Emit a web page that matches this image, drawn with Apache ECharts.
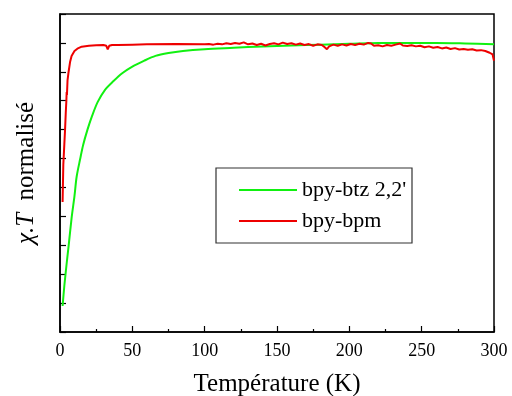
<!DOCTYPE html>
<html><head><meta charset="utf-8">
<script src="https://cdn.jsdelivr.net/npm/echarts@6/dist/echarts.min.js"></script>
<style>html,body{margin:0;padding:0;background:#fff}#c{width:512px;height:396px}</style>
</head><body><div id="c"></div>
<script>
var xTicks = [0, 50, 100, 150, 200, 250, 300];
var seriesNames = ["bpy-btz 2,2'", "bpy-bpm"];
var greenT = [1.8, 3, 4.6, 6, 8.1, 10, 11.5, 14, 16, 19, 22, 26, 31, 37, 43, 50, 58, 66, 75, 85, 100, 120, 140, 160, 180, 200, 220, 240, 260, 280, 300];
var greenV = [0.09, 0.16, 0.237, 0.30, 0.398, 0.47, 0.537, 0.60, 0.647, 0.70, 0.745, 0.795, 0.837, 0.868, 0.895, 0.918, 0.938, 0.955, 0.965, 0.972, 0.978, 0.983, 0.988, 0.991, 0.994, 0.997, 1.0, 1.0, 1.0, 0.998, 0.995];
var redT = [1.8, 2.3, 3, 3.5, 4, 4.4, 4.6, 4.8, 5.2, 5.8, 7, 8, 10, 12, 15, 20, 25, 30, 32, 33, 34, 36, 40, 50, 60, 80,
  100, 103, 106, 109, 112, 115, 118, 121, 124, 127, 130, 133, 136, 139, 142, 145, 148, 151, 154, 157, 160, 163, 166, 169, 172, 175, 178, 181, 183, 184.5, 186, 189, 192, 195, 198, 201, 204, 207, 210, 213, 215, 217, 220, 223, 226, 229, 232, 235, 237, 240, 243, 246, 249, 252, 255, 258, 261, 264, 267, 270, 273, 276, 279, 282, 285, 288, 291, 294, 297, 299, 300];
var redV = [0.45, 0.58, 0.65, 0.70, 0.76, 0.80, 0.83, 0.82, 0.87, 0.895, 0.935, 0.955, 0.972, 0.98, 0.987, 0.99, 0.992, 0.993, 0.99, 0.978, 0.99, 0.993, 0.993, 0.994, 0.995, 0.996,
  0.995, 0.996, 0.994, 0.997, 0.995, 0.999, 0.996, 1.0, 0.997, 1.002, 0.995, 0.998, 0.993, 0.997, 0.991, 0.996, 0.999, 0.995, 1.001, 0.996, 0.999, 0.994, 0.998, 0.993, 0.996, 0.99, 0.995, 0.993, 0.985, 0.978, 0.988, 0.994, 0.99, 0.995, 0.991, 0.996, 0.993, 0.997, 0.994, 1.0, 0.998, 0.99, 0.992, 0.988, 0.993, 0.99, 0.994, 0.998, 0.991, 0.989, 0.992, 0.988, 0.99, 0.985, 0.988, 0.983, 0.986, 0.981, 0.984, 0.979, 0.982, 0.977, 0.979, 0.976, 0.978, 0.974, 0.975, 0.972, 0.966, 0.96, 0.938];

function pairs(t, v) { return t.map(function (x, i) { return [x, v[i]]; }); }
var F = 'Liberation Serif';
var chart = echarts.init(document.getElementById('c'), null, { renderer: 'canvas' });
chart.setOption({
  animation: false,
  backgroundColor: '#fff',
  grid: { left: 60, right: 18, top: 14, bottom: 64, outerBoundsMode: 'none', containLabel: false, show: true, borderColor: '#000', borderWidth: 1.5, backgroundColor: 'transparent' },
  xAxis: {
    type: 'value', min: xTicks[0], max: xTicks[xTicks.length - 1], interval: 50,
    name: 'Température (K)', nameLocation: 'middle', nameGap: 40,
    nameTextStyle: { fontFamily: F, fontSize: 25, color: '#000' },
    axisLine: { lineStyle: { color: '#000', width: 1.5 } },
    axisTick: { inside: true, length: 6, lineStyle: { color: '#000', width: 1.2 } },
    minorTick: { show: true, splitNumber: 2, length: 3, lineStyle: { color: '#000', width: 1.2 } },
    axisLabel: { fontFamily: F, fontSize: 18, color: '#000', margin: 10 },
    splitLine: { show: false }
  },
  yAxis: {
    type: 'value', min: 0, max: 1.1, interval: 0.1,
    name: '{i|χ.T}  normalisé', nameLocation: 'middle', nameGap: 21,
    nameTextStyle: { fontFamily: F, fontSize: 25, color: '#000', rich: { i: { fontFamily: F, fontSize: 25, fontStyle: 'italic', color: '#000' } } },
    axisLine: { lineStyle: { color: '#000', width: 1.5 } },
    axisTick: { inside: true, length: 6, lineStyle: { color: '#000', width: 1.2 } },
    axisLabel: { show: false },
    splitLine: { show: false }
  },
  legend: {
    left: 216, top: 168, orient: 'vertical',
    padding: [11, 8, 11, 23], itemGap: 9,
    itemWidth: 58, itemHeight: 2, icon: 'rect',
    textStyle: { fontFamily: F, fontSize: 22, color: '#000' },
    data: seriesNames
  },
  graphic: [{ type: 'rect', shape: { x: 216, y: 168, width: 196, height: 75 }, style: { fill: 'none', stroke: '#333', lineWidth: 1.2 }, z: 10 }],
  series: [
    { name: seriesNames[0], type: 'line', data: pairs(greenT, greenV), showSymbol: false, smooth: 0.3, lineStyle: { color: '#11f011', width: 2 }, itemStyle: { color: '#11f011' } },
    { name: seriesNames[1], type: 'line', data: pairs(redT, redV), showSymbol: false, lineStyle: { color: '#ee0000', width: 2 }, itemStyle: { color: '#ee0000' } }
  ]
});
</script></body></html>
